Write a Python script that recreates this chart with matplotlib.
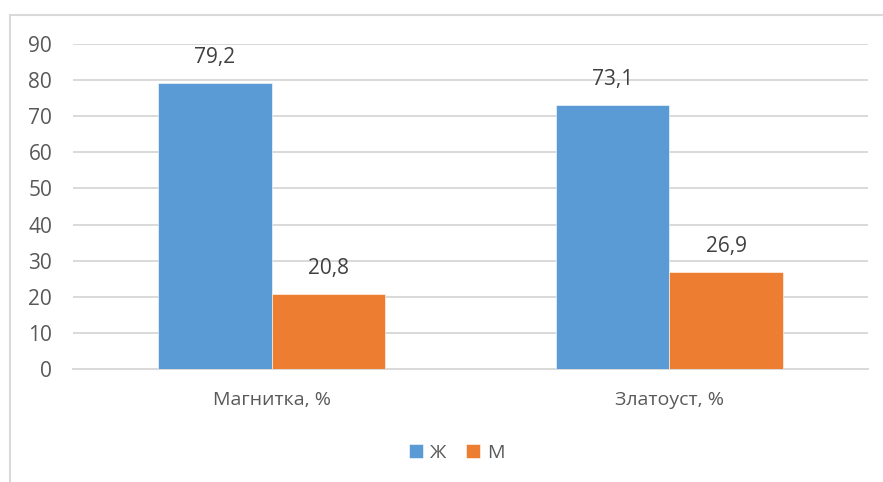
import numpy as np
import matplotlib.pyplot as plt
from matplotlib.patches import Rectangle

categories = ["Магнитка, %", "Златоуст, %"]
series_names = ["Ж", "М"]
women = [79.2, 73.1]
men = [20.8, 26.9]
yticks = [0, 10, 20, 30, 40, 50, 60, 70, 80, 90]

plt.rcParams['font.family'] = ['Open Sans', 'DejaVu Sans']
text_color = '#595959'
grid_color = '#d9d9d9'
colors = ['#5B9BD5', '#ED7D31']

fig = plt.figure(figsize=(8.83, 4.82), dpi=100)
ax = fig.add_axes([73 / 883, 113 / 482, 795 / 883, 325 / 482])

# chart frame (cut off at right and bottom like in the screenshot)
fig.patches.append(Rectangle((10 / 883, -0.2), 1.2, 0.2 + 1 - 15 / 482,
                             transform=fig.transFigure, fill=False,
                             edgecolor=grid_color, linewidth=1.5))

x = np.arange(len(categories))
w = 0.286
for i, (vals, name) in enumerate([(women, series_names[0]), (men, series_names[1])]):
    pos = x + (i - 0.5) * w
    ax.bar(pos, vals, width=w, color=colors[i], label=name,
           edgecolor='white', linewidth=0.4, zorder=3)
    for xp, v in zip(pos, vals):
        ax.text(xp, v + 5.5, f"{v:.1f}".replace('.', ','), ha='center', va='baseline',
                fontsize=15, color='#404040')

ax.set_xlim(-0.5, 1.5)
ax.set_ylim(0, 90)
ax.set_yticks(yticks)
ax.set_yticklabels([str(t) for t in yticks])
ax.set_xticks(x)
ax.set_xticklabels(categories, fontsize=14)
ax.yaxis.grid(True, color=grid_color, linewidth=1.4, zorder=0)
ax.set_axisbelow(True)
for s in ['top', 'right', 'left']:
    ax.spines[s].set_visible(False)
ax.spines['bottom'].set_color(grid_color)
ax.spines['bottom'].set_linewidth(1.4)
ax.tick_params(axis='both', length=0, colors=text_color)
ax.tick_params(axis='y', pad=15, labelsize=15)
ax.tick_params(axis='x', pad=16)

ax.legend(loc='center', bbox_to_anchor=(457 / 883, 1 - 453 / 482),
          bbox_transform=fig.transFigure, ncol=2, frameon=False,
          handlelength=0.7, handleheight=0.7, handletextpad=0.4,
          columnspacing=1.0, fontsize=14, labelcolor=text_color)

fig.savefig('out.png', dpi=100)
